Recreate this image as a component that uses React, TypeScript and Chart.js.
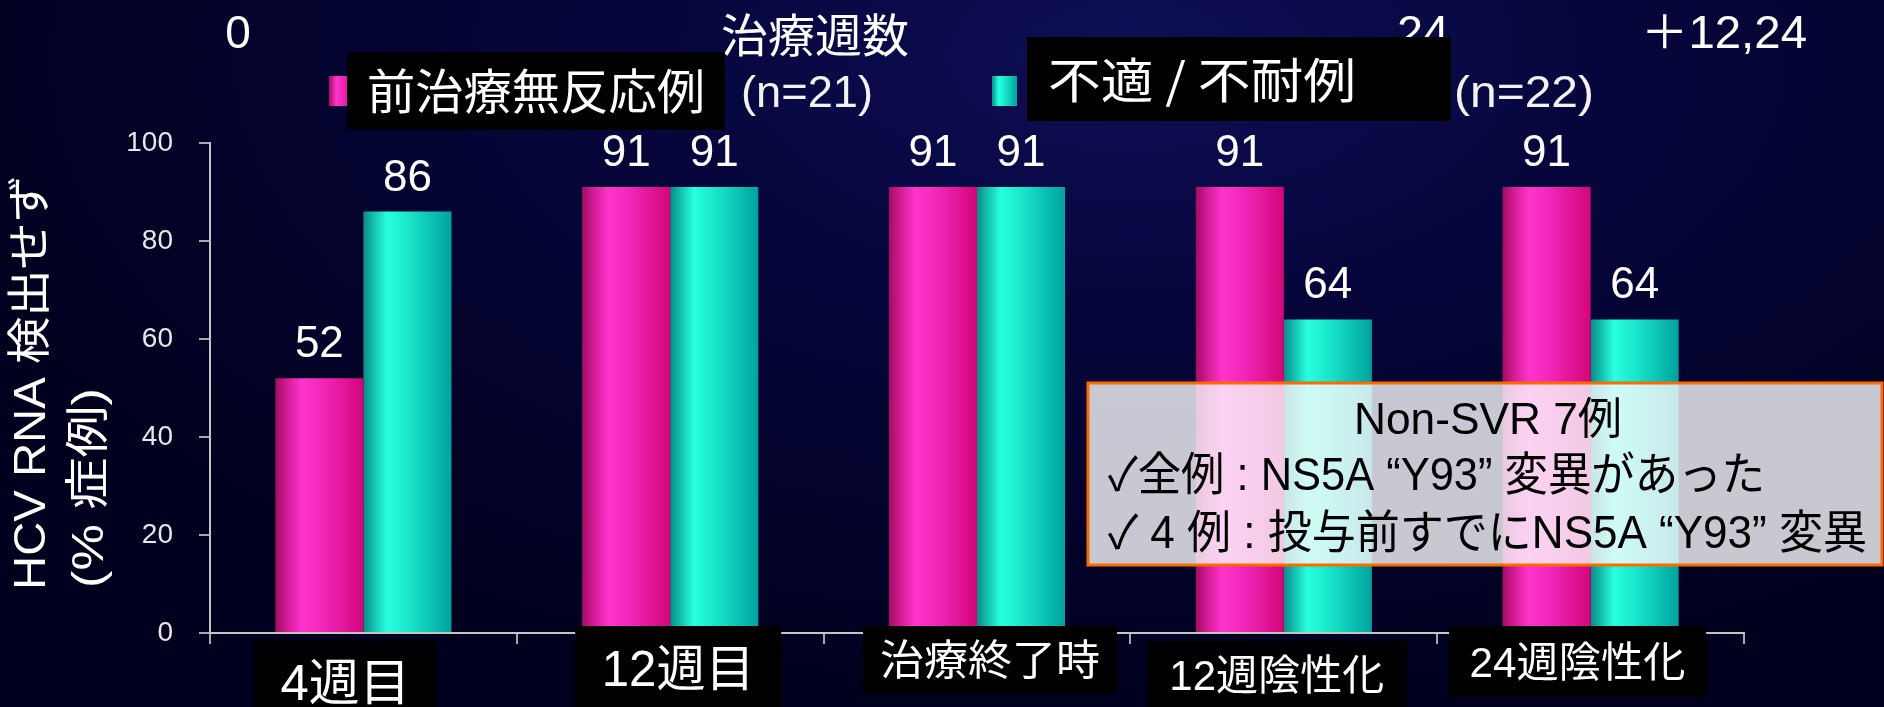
import React, { useEffect, useRef } from "react";
import { Chart, registerables } from "chart.js";

Chart.register(...registerables);

// ---------- data ----------
const categories = ["4週目", "12週目", "治療終了時", "12週陰性化", "24週陰性化"];
const nonResponderValues = [52, 91, 91, 91, 91];
const intolerantValues = [86, 91, 91, 64, 64];
const seriesNames = ["前治療無反応例", "不適 / 不耐例"];
const seriesCounts = ["(n=21)", "(n=22)"];
const yTickStep = 20;
const yMax = 100;
const timelineLabels = ["0", "治療週数", "24", "＋12,24"];
const yTitleLines = ["HCV RNA 検出せず", "(% 症例)"];
const noteLines = ["Non-SVR 7例", "✓全例 : NS5A “Y93” 変異があった", "✓ 4 例 : 投与前すでにNS5A “Y93” 変異"];

// ---------- layout / style ----------
const W = 1884;
const H = 707;
const SANS = '"Liberation Sans", "Noto Sans CJK JP", sans-serif';
const CJK = '"Noto Sans CJK JP", "Liberation Sans", sans-serif';
const CAT_PCT = 0.574;

const PINK_STOPS: [number, string][] = [
  [0, "#a00e60"], [0.12, "#cf1a92"], [0.3, "#ff34cc"], [0.55, "#f126b8"], [1, "#d3067a"],
];
const TEAL_STOPS: [number, string][] = [
  [0, "#0a8c88"], [0.1, "#12b8aa"], [0.27, "#28ffe0"], [0.5, "#1ae8cc"], [1, "#00a29e"],
];

const timelineLayout = [
  { x: 238, y: 48, w: 0, size: 46, align: "center", font: SANS, base: "alphabetic" },
  { x: 721, y: 35, w: 188, size: 46, align: "left", font: CJK, base: "middle" },
  { x: 1397, y: 48, w: 52, size: 46, align: "left", font: SANS, base: "alphabetic" },
  { x: 1641, y: 48, w: 166, size: 46, align: "left", font: SANS, base: "alphabetic" },
];

const legendLayout = [
  { sx: 329, sy: 76, sw: 25, sh: 30, bx: 347, by: 52, bw: 378, bh: 78, tx: 367, ty: 91, tw: 338, nx: 741, ny: 95, nw: 132 },
  { sx: 992, sy: 76, sw: 25, sh: 30, bx: 1027, by: 37, bw: 424, bh: 84, tx: 1048, ty: 80, tw: 308, nx: 1454, ny: 95, nw: 140 },
];

const xLabelLayout = [
  { dx: -18, bw: 182, top: 641, bottom: 720, size: 50, cy: 686, tw: 130 },
  { dx: 8, bw: 206, top: 626, bottom: 720, size: 50, cy: 672, tw: 153 },
  { dx: 13, bw: 254, top: 626, bottom: 694, size: 42, cy: 663, tw: 220 },
  { dx: -7, bw: 260, top: 641, bottom: 720, size: 42, cy: 678, tw: 215 },
  { dx: -13, bw: 257, top: 626, bottom: 697, size: 42, cy: 665, tw: 216 },
];

const noteLayout = {
  x: 1088, y: 383, w: 794, h: 182,
  lines: [
    { x: 1488, y: 422, w: 268, size: 44, align: "center" },
    { x: 1108, y: 477, w: 657, size: 46, align: "left" },
    { x: 1108, y: 535, w: 759, size: 46, align: "left" },
  ],
};

const yTitleLayout = [
  { x: 33, y: 590, len: 415, size: 44 },
  { x: 91, y: 588, len: 200, size: 44 },
];

function fitText(
  ctx: CanvasRenderingContext2D,
  text: string,
  x: number,
  y: number,
  width: number,
  size: number,
  family: string,
  align: string,
  baseline: CanvasTextBaseline,
  color: string
) {
  ctx.save();
  ctx.font = `${size}px ${family}`;
  ctx.fillStyle = color;
  ctx.textBaseline = baseline;
  ctx.textAlign = "left";
  const natural = ctx.measureText(text).width;
  const sx = width > 0 ? width / natural : 1;
  const left = align === "center" ? x - (natural * sx) / 2 : x;
  ctx.translate(left, y);
  ctx.scale(sx, 1);
  ctx.fillText(text, 0, 0);
  ctx.restore();
}

function hGrad(ctx: CanvasRenderingContext2D, x0: number, x1: number, stops: [number, string][]) {
  const g = ctx.createLinearGradient(x0, 0, x1, 0);
  stops.forEach(([o, c]) => g.addColorStop(o, c));
  return g;
}

function barFill(stops: [number, string][]) {
  return (c: any) => {
    const chart = c.chart;
    const xs = chart.scales?.x;
    if (!chart.chartArea || !xs || c.dataIndex === undefined) return stops[2][1];
    const center = xs.getPixelForValue(c.dataIndex);
    const barW = (xs.width / categories.length) * CAT_PCT / 2;
    const left = c.datasetIndex === 0 ? center - barW : center;
    return hGrad(chart.ctx, left, left + barW, stops);
  };
}

const valueLabelPlugin = {
  id: "valueLabels",
  afterDatasetsDraw(chart: any) {
    const ctx = chart.ctx as CanvasRenderingContext2D;
    chart.data.datasets.forEach((ds: any, di: number) => {
      const meta = chart.getDatasetMeta(di);
      meta.data.forEach((bar: any, i: number) => {
        ctx.save();
        ctx.font = `44px ${SANS}`;
        ctx.fillStyle = "#ffffff";
        ctx.textAlign = "center";
        ctx.textBaseline = "alphabetic";
        ctx.fillText(String(ds.data[i]), bar.x, bar.y - 21);
        ctx.restore();
      });
    });
  },
};

const annotationPlugin = {
  id: "slideAnnotations",
  afterDraw(chart: any) {
    const ctx = chart.ctx as CanvasRenderingContext2D;
    const xs = chart.scales.x;

    // timeline header
    timelineLabels.forEach((t, i) => {
      const l = timelineLayout[i];
      fitText(ctx, t, l.x, l.y, l.w, l.size, l.font, l.align, l.base as CanvasTextBaseline, "#ffffff");
    });

    // legend
    [PINK_STOPS, TEAL_STOPS].forEach((stops, i) => {
      const l = legendLayout[i];
      ctx.fillStyle = hGrad(ctx, l.sx, l.sx + l.sw, stops);
      ctx.fillRect(l.sx, l.sy, l.sw, l.sh);
      ctx.fillStyle = "#000000";
      ctx.fillRect(l.bx, l.by, l.bw, l.bh);
      fitText(ctx, seriesNames[i], l.tx, l.ty, l.tw, 48, CJK, "left", "middle", "#ffffff");
      fitText(ctx, seriesCounts[i], l.nx, l.ny, l.nw, 44, SANS, "left", "middle", "#f2f2f2");
    });

    // y axis title (rotated)
    yTitleLines.forEach((t, i) => {
      const l = yTitleLayout[i];
      ctx.save();
      ctx.translate(l.x, l.y);
      ctx.rotate(-Math.PI / 2);
      fitText(ctx, t, 0, 0, l.len, l.size, SANS, "left", "middle", "#ffffff");
      ctx.restore();
    });

    // category labels in black boxes
    categories.forEach((c, i) => {
      const l = xLabelLayout[i];
      const cx = xs.getPixelForValue(i) + l.dx;
      ctx.fillStyle = "#000000";
      ctx.fillRect(cx - l.bw / 2, l.top, l.bw, l.bottom - l.top);
      fitText(ctx, c, cx, l.cy, l.tw, l.size, SANS, "center", "middle", "#ffffff");
    });

    // Non-SVR note box
    const n = noteLayout;
    ctx.save();
    ctx.fillStyle = "rgba(250,250,252,0.8)";
    ctx.fillRect(n.x, n.y, n.w, n.h);
    ctx.strokeStyle = "#ff6a00";
    ctx.lineWidth = 3;
    ctx.strokeRect(n.x, n.y, n.w, n.h);
    ctx.restore();
    noteLines.forEach((t, i) => {
      const l = n.lines[i];
      fitText(ctx, t, l.x, l.y, l.w, l.size, SANS, l.align, "middle", "#000000");
    });
  },
};

export default function App() {
  const ref = useRef<HTMLCanvasElement | null>(null);

  useEffect(() => {
    document.body.style.margin = "0";
    if (!ref.current) return;
    const chart = new Chart(ref.current, {
      type: "bar",
      data: {
        labels: categories,
        datasets: [
          { label: seriesNames[0], data: nonResponderValues, backgroundColor: barFill(PINK_STOPS) as any, borderWidth: 0, categoryPercentage: CAT_PCT, barPercentage: 1 },
          { label: seriesNames[1], data: intolerantValues, backgroundColor: barFill(TEAL_STOPS) as any, borderWidth: 0, categoryPercentage: CAT_PCT, barPercentage: 1 },
        ],
      },
      options: {
        responsive: false,
        animation: false,
        events: [],
        layout: { padding: { top: 143, right: 140, left: 0, bottom: 0 } },
        plugins: {
          legend: { display: false },
          tooltip: { enabled: false },
          title: { display: false },
        },
        scales: {
          x: {
            type: "category",
            offset: true,
            grid: { offset: true, drawOnChartArea: false, drawTicks: true, tickLength: 11, color: "#a8a8a8", lineWidth: 2 },
            border: { color: "#c4c4c4", width: 2 },
            ticks: { display: false },
            afterFit: (s: any) => { s.height = 74; },
          },
          y: {
            min: 0,
            max: yMax,
            ticks: { stepSize: yTickStep, color: "#e6e6e6", font: { size: 28, family: SANS }, padding: 26 },
            grid: { drawOnChartArea: false, tickLength: 11, color: "#a8a8a8", lineWidth: 2 },
            border: { color: "#c4c4c4", width: 2 },
            afterFit: (s: any) => { s.width = 210; },
          },
        },
      },
      plugins: [valueLabelPlugin, annotationPlugin],
    });
    return () => chart.destroy();
  }, []);

  return (
    <div
      style={{
        position: "fixed",
        left: 0,
        top: 0,
        width: W,
        height: H,
        overflow: "hidden",
        background:
          "radial-gradient(ellipse 65% 90% at 60% 8%, #0e0e56 0%, #06063c 40%, #00001e 100%)",
      }}
    >
      <canvas ref={ref} width={W} height={H} style={{ display: "block" }} />
    </div>
  );
}
